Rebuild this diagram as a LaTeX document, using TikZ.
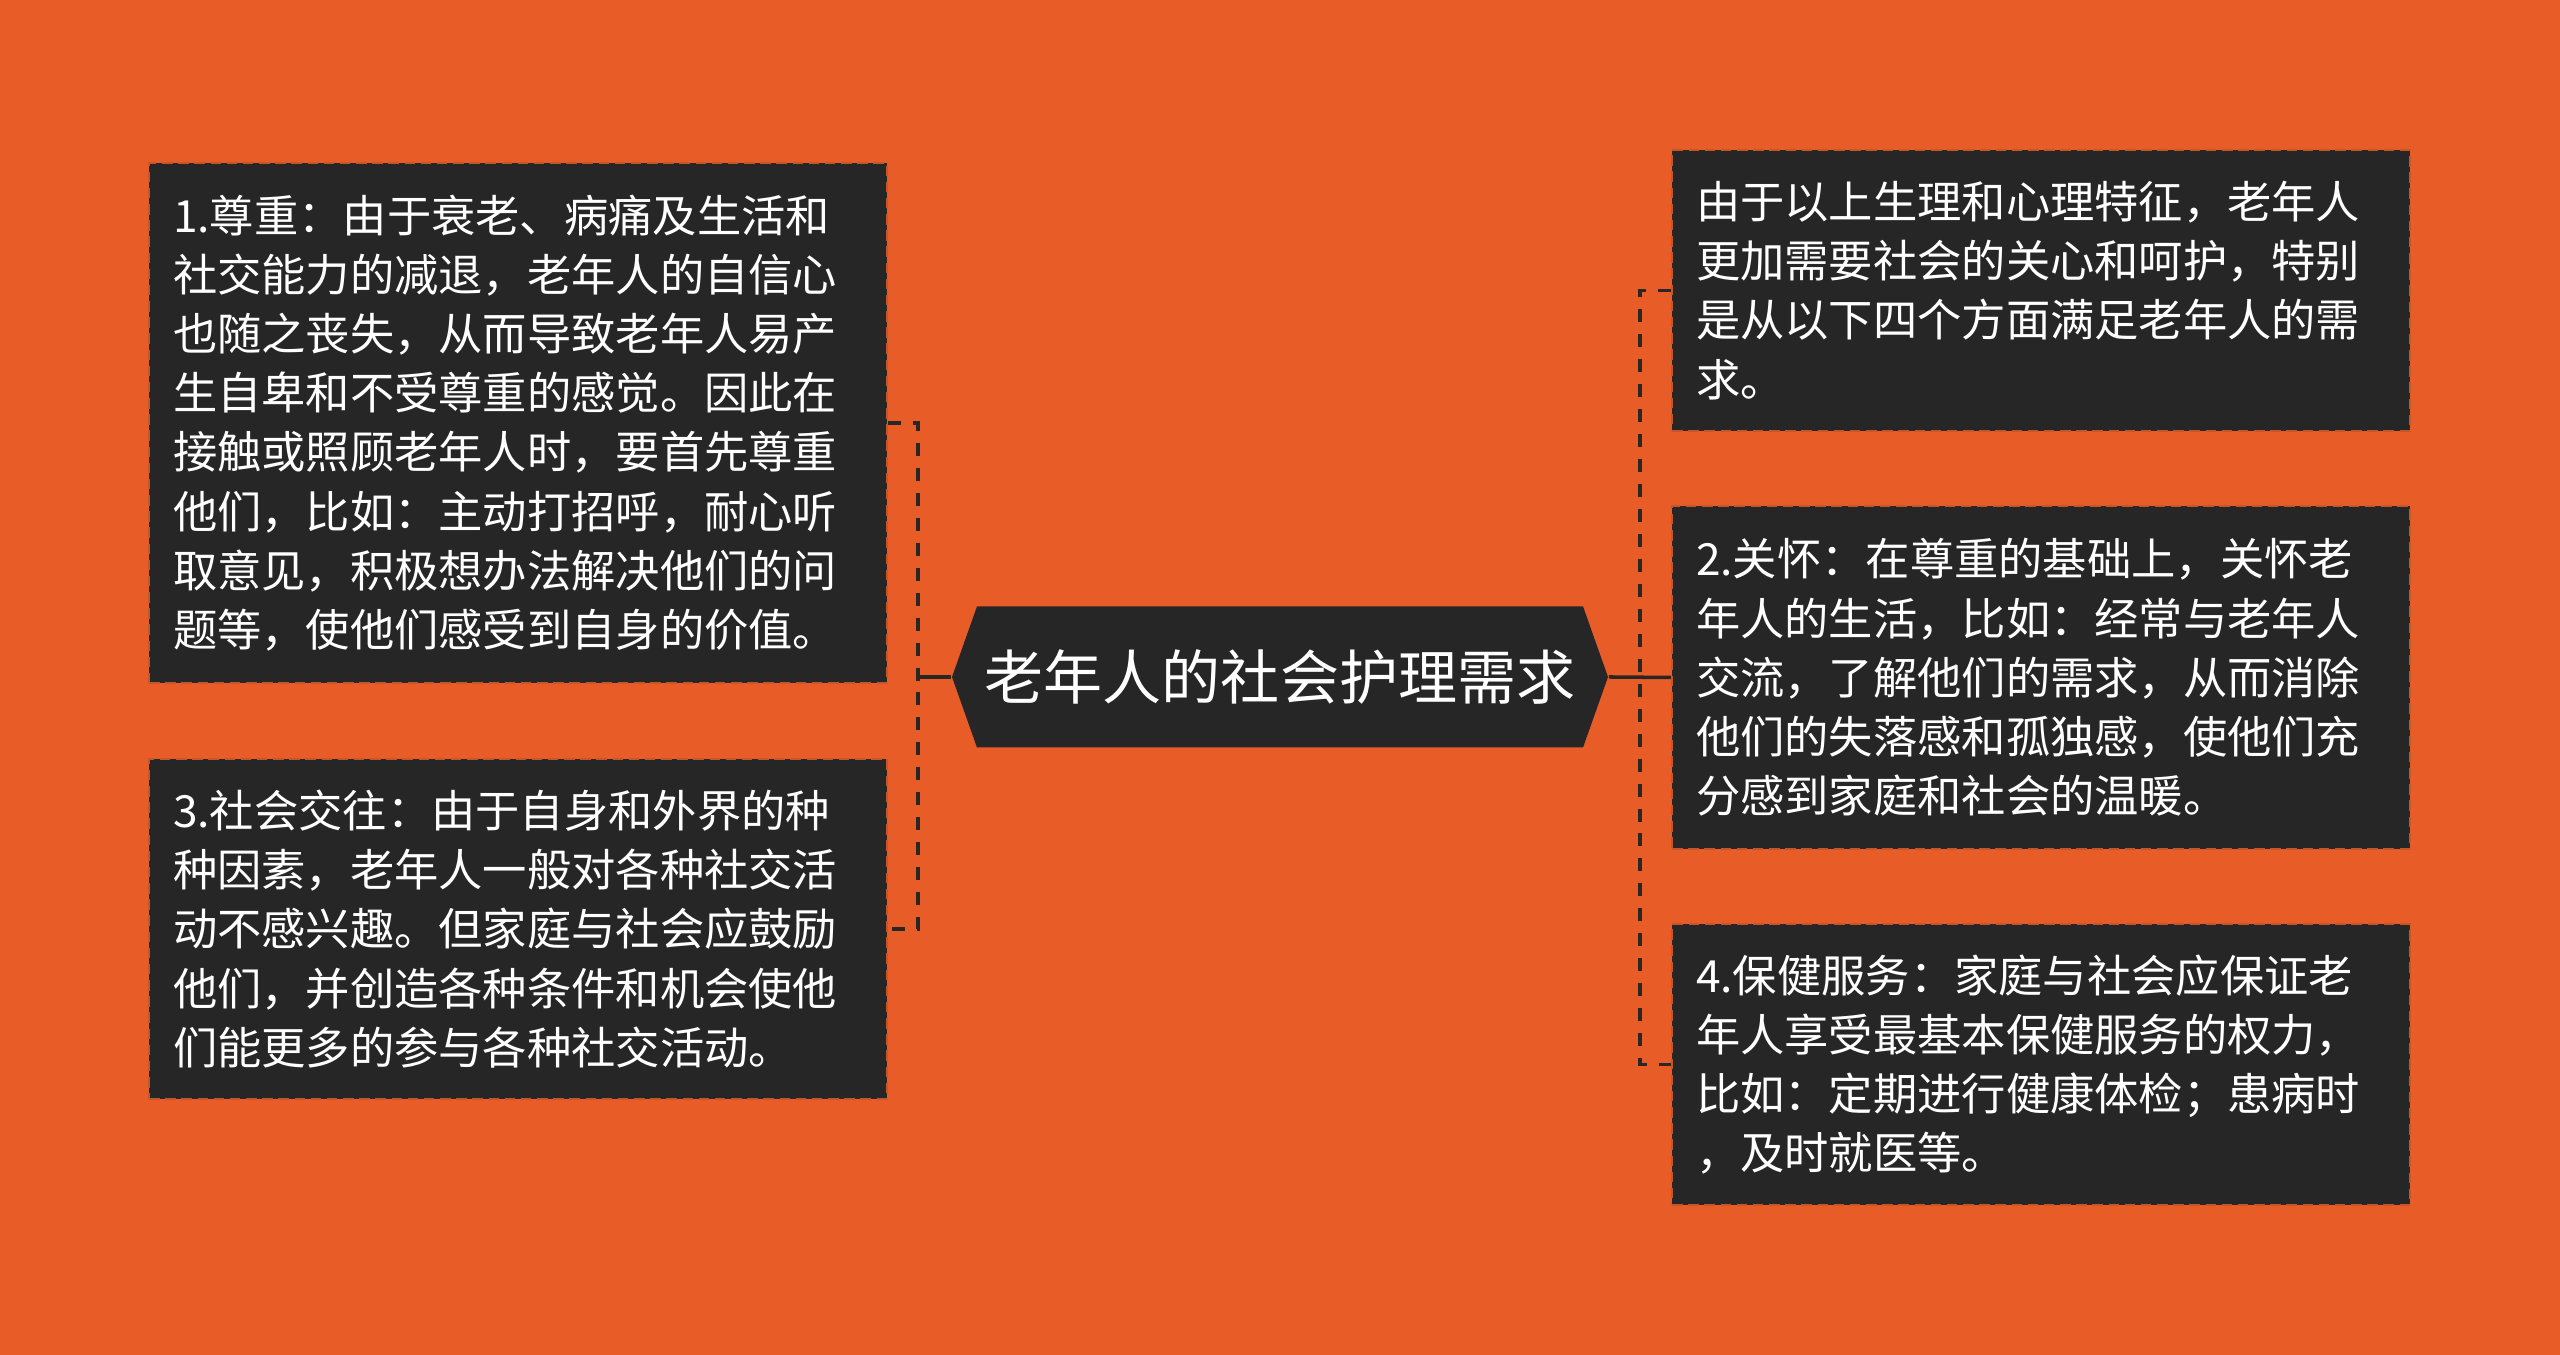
\documentclass[tikz,border=0pt]{standalone}
\usepackage{fontspec}
\setmainfont{Noto Sans CJK SC}
\usepackage{tikz}
\usetikzlibrary{shapes.symbols}
\definecolor{bgorange}{HTML}{E85C28}
\definecolor{boxdark}{HTML}{262626}
\definecolor{edgeorange}{HTML}{C4562A}
\definecolor{linkdark}{HTML}{2A2624}
\tikzset{%
  hub/.style={
    signal,
    signal to=west and east,
    signal pointer angle=141,
    fill=boxdark,
    draw=none,
    text=white,
    minimum width=6.56cm,
    minimum height=1.41cm,
    inner sep=0pt,
    font=\fontsize{16.8pt}{20pt}\selectfont
  },
  need/.style={
    rectangle,
    fill=boxdark,
    draw=edgeorange,
    line width=0.6pt,
    dash pattern=on 3pt off 1.6pt,
    text=white,
    text width=6.90cm,
    align=left,
    inner xsep=0.24cm,
    inner ysep=0pt,
    font=\fontsize{12.6pt}{16.85pt}\selectfont
  },
  link/.style={
    draw=linkdark,
    line width=1pt
  },
  link dashed/.style={
    link,
    dash pattern=on 3.7pt off 3.4pt
  },
}

\begin{document}
\begin{tikzpicture}
\useasboundingbox[fill=bgorange] (0,0) rectangle (25.6,13.55);

    \node[hub] (hub) at (12.80,6.78) {老年人的社会护理需求};

    % left side
    \node[need, minimum height=5.20cm] (respect) at (5.18,9.32) {1.尊重：由于衰老、病痛及生活和\\社交能力的减退，老年人的自信心\\也随之丧失，从而导致老年人易产\\生自卑和不受尊重的感觉。因此在\\接触或照顾老年人时，要首先尊重\\他们，比如：主动打招呼，耐心听\\取意见，积极想办法解决他们的问\\题等，使他们感受到自身的价值。};
    \node[need, minimum height=3.40cm] (social) at (5.18,4.26) {3.社会交往：由于自身和外界的种\\种因素，老年人一般对各种社交活\\动不感兴趣。但家庭与社会应鼓励\\他们，并创造各种条件和机会使他\\们能更多的参与各种社交活动。};

    % right side
    \node[need, minimum height=2.81cm] (intro) at (20.41,10.645) {由于以上生理和心理特征，老年人\\更加需要社会的关心和呵护，特别\\是从以下四个方面满足老年人的需\\求。};
    \node[need, minimum height=3.43cm] (concern) at (20.41,6.775) {2.关怀：在尊重的基础上，关怀老\\年人的生活，比如：经常与老年人\\交流，了解他们的需求，从而消除\\他们的失落感和孤独感，使他们充\\分感到家庭和社会的温暖。};
    \node[need, minimum height=2.81cm] (health) at (20.41,2.905) {4.保健服务：家庭与社会应保证老\\年人享受最基本保健服务的权力，\\比如：定期进行健康体检；患病时\\，及时就医等。};

    \coordinate (join_l) at (9.18,6.78);
    \coordinate (join_r) at (16.40,6.78);

    \draw[link] (hub.west) -- (join_l);
    \draw[link dashed] (respect.east) -| (join_l) |- (social.east);
    \draw[link] (hub.east) -- (concern.west);
    \draw[link dashed] (intro.west) -| (join_r) |- (health.west);
\end{tikzpicture}
\end{document}
